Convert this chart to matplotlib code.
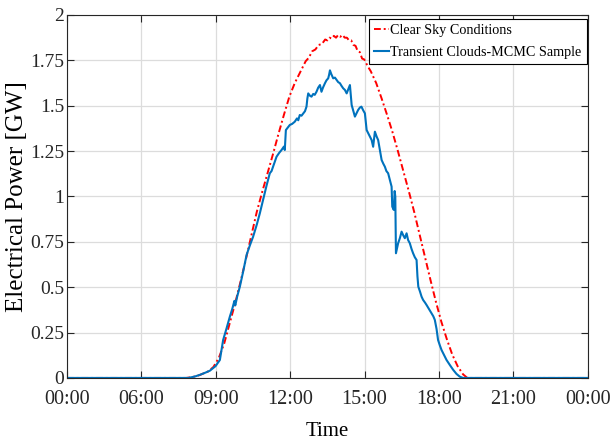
import matplotlib
import matplotlib.pyplot as plt

matplotlib.use('Agg')

plt.rcParams['font.family'] = ['Liberation Serif', 'DejaVu Serif']
plt.rcParams['mathtext.fontset'] = 'stix'

# hours of the day (x) and power in GW (y)
clear_hours = [0, 5.5, 5.8, 6.1, 6.5, 6.75, 7.0, 7.25, 7.5, 7.75,
               8.0, 8.25, 8.5, 8.75, 9.0, 9.25, 9.5, 9.75, 10.0, 10.25,
               10.5, 10.75, 11.0, 11.15, 11.3, 11.45, 11.6, 11.75, 11.9, 12.0,
               12.1, 12.2, 12.3, 12.4, 12.5, 12.6, 12.7, 12.8, 12.9, 13.0,
               13.1, 13.2, 13.3, 13.4, 13.5, 13.6, 13.7, 13.85, 14.0, 14.25,
               14.5, 14.75, 15.0, 15.25, 15.5, 15.75, 16.0, 16.25, 16.5, 16.75,
               17.0, 17.25, 17.5, 17.75, 18.0, 18.25, 18.45, 24]
clear_power = [0, 0, 0.005, 0.015, 0.035, 0.06, 0.11, 0.19, 0.30, 0.41,
               0.53, 0.655, 0.785, 0.915, 1.025, 1.13, 1.235, 1.345, 1.45, 1.55,
               1.625, 1.685, 1.745, 1.765, 1.80, 1.81, 1.835, 1.84, 1.865, 1.86,
               1.875, 1.87, 1.885, 1.875, 1.89, 1.88, 1.89, 1.875, 1.875, 1.86,
               1.86, 1.835, 1.83, 1.80, 1.795, 1.76, 1.755, 1.72, 1.69, 1.625,
               1.54, 1.45, 1.355, 1.25, 1.14, 1.03, 0.915, 0.79, 0.665, 0.54,
               0.42, 0.31, 0.215, 0.13, 0.065, 0.02, 0, 0]

cloud_hours = [0, 5.6, 5.9, 6.13, 6.4, 6.59, 6.85, 7.05, 7.12, 7.2,
               7.35, 7.51, 7.62, 7.72, 7.76, 7.85, 7.97, 8.13, 8.28, 8.43,
               8.58, 8.75, 8.89, 9.04, 9.2, 9.35, 9.43, 9.5, 9.58, 9.66,
               9.78, 9.89, 10.0, 10.04, 10.09, 10.18, 10.27, 10.38, 10.5, 10.6,
               10.66, 10.73, 10.81, 10.89, 10.97, 11.04, 11.08, 11.12, 11.2, 11.27,
               11.35, 11.42, 11.5, 11.58, 11.66, 11.73, 11.8, 11.89, 11.96, 12.04,
               12.08, 12.12, 12.18, 12.27, 12.35, 12.43, 12.5, 12.58, 12.65, 12.73,
               12.81, 12.89, 12.96, 13.04, 13.08, 13.12, 13.2, 13.27, 13.35, 13.42,
               13.5, 13.57, 13.65, 13.73, 13.81, 13.92, 14.04, 14.11, 14.19, 14.27,
               14.34, 14.42, 14.5, 14.58, 14.65, 14.72, 14.8, 14.88, 14.96, 14.99,
               15.06, 15.1, 15.13, 15.16, 15.26, 15.34, 15.42, 15.5, 15.57, 15.65,
               15.72, 15.8, 15.88, 15.95, 16.03, 16.11, 16.15, 16.19, 16.27, 16.34,
               16.41, 16.5, 16.57, 16.68, 16.8, 16.88, 16.95, 17.03, 17.1, 17.18,
               17.26, 17.38, 17.49, 17.65, 17.8, 17.95, 18.1, 18.25, 24]
cloud_power = [0, 0, 0.008, 0.017, 0.03, 0.04, 0.065, 0.099, 0.15, 0.209,
               0.27, 0.338, 0.38, 0.425, 0.40, 0.45, 0.503, 0.59, 0.678, 0.73,
               0.778, 0.845, 0.907, 0.98, 1.06, 1.128, 1.14, 1.164, 1.19, 1.219,
               1.24, 1.256, 1.275, 1.256, 1.366, 1.38, 1.394, 1.40, 1.412, 1.43,
               1.42, 1.449, 1.445, 1.458, 1.47, 1.495, 1.54, 1.568, 1.555, 1.55,
               1.565, 1.56, 1.577, 1.60, 1.614, 1.577, 1.60, 1.624, 1.64, 1.651,
               1.67, 1.695, 1.675, 1.651, 1.655, 1.642, 1.63, 1.624, 1.61, 1.596,
               1.587, 1.568, 1.59, 1.614, 1.56, 1.504, 1.47, 1.44, 1.46, 1.477,
               1.49, 1.495, 1.475, 1.458, 1.366, 1.34, 1.311, 1.274, 1.357, 1.33,
               1.311, 1.256, 1.201, 1.18, 1.164, 1.14, 1.128, 1.09, 1.054, 0.944,
               0.926, 1.03, 1.0, 0.687, 0.742, 0.77, 0.806, 0.785, 0.77, 0.797,
               0.76, 0.742, 0.71, 0.687, 0.665, 0.65, 0.56, 0.503, 0.475, 0.448,
               0.43, 0.415, 0.402, 0.38, 0.356, 0.34, 0.32, 0.27, 0.209, 0.18,
               0.154, 0.125, 0.099, 0.07, 0.044, 0.022, 0.007, 0, 0]

# the original axis puts these 8 labels evenly across the day
tick_labels = ['00:00', '06:00', '09:00', '12:00', '15:00', '18:00', '21:00', '00:00']
y_ticks = [0, 0.25, 0.5, 0.75, 1, 1.25, 1.5, 1.75, 2]
y_labels = ['0', '0.25', '0.5', '0.75', '1', '1.25', '1.5', '1.75', '2']

fig = plt.figure(figsize=(6.13, 4.41), dpi=100)
ax = fig.add_axes([0.109, 0.143, 0.850, 0.823])

ax.plot(clear_hours, clear_power, color='red', lw=1.4,
        linestyle=(0, (3.5, 1.5, 1, 1.5)), label='Clear Sky Conditions')
ax.plot(cloud_hours, cloud_power, color='#0072BD', lw=1.5,
        label='Transient Clouds-MCMC Sample')

ax.set_xlim(0, 24)
ax.set_ylim(0, 2)
n = len(tick_labels)
ax.set_xticks([24 * i / (n - 1) for i in range(n)])
ax.set_xticklabels(tick_labels)
ax.set_yticks(y_ticks)
ax.set_yticklabels(y_labels)

ax.grid(True, color='#dcdcdc', lw=0.9)
ax.set_axisbelow(True)
ax.tick_params(direction='in', top=True, right=True, labelsize=14.5,
               length=5, width=0.8, colors='#262626')
ax.tick_params(axis='x', pad=9)
ax.tick_params(axis='y', pad=2, labelsize=14)
for s in ax.spines.values():
    s.set_color('#262626')
    s.set_linewidth(0.8)

ax.set_xlabel('Time', fontsize=15, labelpad=9)
ax.set_ylabel('Electrical Power [GW]', fontsize=18)
ax.yaxis.set_label_coords(-0.074, 0.5)

leg = ax.legend(loc='upper right', bbox_to_anchor=(0.998, 0.99), borderaxespad=0,
                fontsize=10.2, frameon=True, fancybox=False,
                edgecolor='black', framealpha=1,
                handlelength=1.05, handletextpad=0.1, labelspacing=0.6,
                borderpad=0.38)
leg.get_frame().set_linewidth(0.8)

plt.savefig('out.png', dpi=100)
plt.close()
